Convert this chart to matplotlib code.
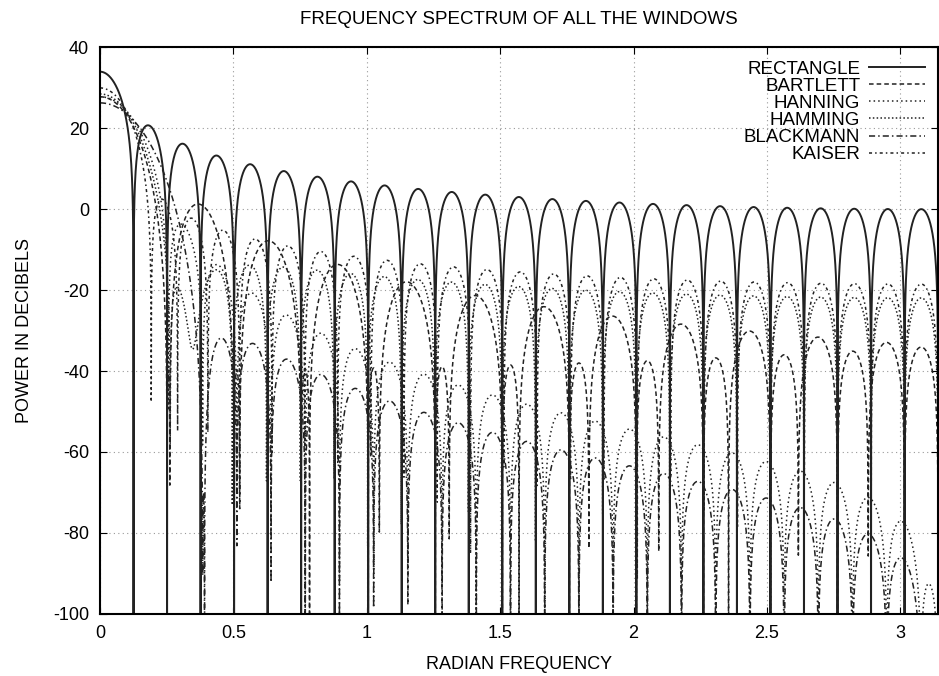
import numpy as np
import matplotlib
matplotlib.use('Agg')
import matplotlib.pyplot as plt

# window setup: 50 taps, Kaiser shape parameter
n_taps = 50
kaiser_beta = 3.5
window_names = ['RECTANGLE', 'BARTLETT', 'HANNING', 'HAMMING', 'BLACKMANN', 'KAISER']
line_styles = ['-', (0, (3, 2)), (0, (1, 2)), (0, (1, 1.5)), (0, (4, 2, 1, 2)), (0, (2, 2, 1, 2))]
line_widths = [1.4, 1.1, 1.1, 1.1, 1.1, 1.1]
x_ticks = [0, 0.5, 1, 1.5, 2, 2.5, 3]
y_ticks = [40, 20, 0, -20, -40, -60, -80, -100]

# fft length is a multiple of the tap count so the rectangle nulls land on the grid
n_fft = 400 * n_taps

def make_windows(n, beta):
    return [np.ones(n), np.bartlett(n), np.hanning(n), np.hamming(n),
            np.blackman(n), np.kaiser(n, beta)]

def spectrum_db(w):
    mag = np.abs(np.fft.rfft(w, n_fft))
    return 20 * np.log10(mag + 1e-12)

plt.rcParams['font.family'] = ['Liberation Sans Narrow', 'Liberation Sans', 'DejaVu Sans']
plt.rcParams['axes.unicode_minus'] = False

fig = plt.figure(figsize=(9.39, 6.76), dpi=100)
ax = fig.add_axes([0.1065, 0.092, 0.8925, 0.838])

omega = np.linspace(0, np.pi, n_fft // 2 + 1)
for name, ls, lw, w in zip(window_names, line_styles, line_widths, make_windows(n_taps, kaiser_beta)):
    ax.plot(omega, spectrum_db(w), color='#222222', lw=lw, ls=ls, label=name)

ax.set_xlim(0, np.pi)
ax.set_ylim(-100, 40)
ax.set_xticks(x_ticks)
ax.set_xticklabels(['0', '0.5', '1', '1.5', '2', '2.5', '3'])
ax.set_yticks(y_ticks)
ax.tick_params(direction='in', top=True, right=True, labelsize=13, length=5, pad=8)
ax.grid(True, color='#999999', ls=(0, (1, 3)), lw=0.8)
for s in ax.spines.values():
    s.set_linewidth(1.5)

ax.set_title('FREQUENCY SPECTRUM OF ALL THE WINDOWS', fontsize=13.5, pad=17)
ax.set_xlabel('RADIAN FREQUENCY', fontsize=13, labelpad=10)
ax.set_ylabel('POWER IN DECIBELS', fontsize=13, labelpad=14)

leg = ax.legend(loc='upper right', frameon=False, markerfirst=False, fontsize=13.5,
                handlelength=3.0, handletextpad=0.45, labelspacing=0.0,
                borderaxespad=0.3)
for t in leg.get_texts():
    t.set_ha('right')

fig.savefig('out.png', dpi=100)
